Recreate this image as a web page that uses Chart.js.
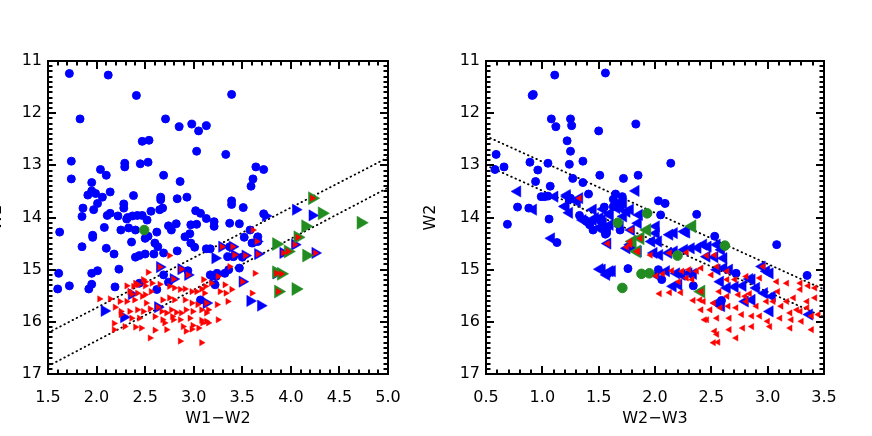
<!DOCTYPE html>
<html>
<head>
<meta charset="utf-8">
<script src="https://cdn.jsdelivr.net/npm/chart.js@4.4.1/dist/chart.umd.min.js"></script>
<style>
  html, body { margin: 0; padding: 0; background: #fff; overflow: hidden; }
  #wrap { position: relative; width: 872px; height: 436px; }
  canvas { position: absolute; top: 0; }
  #leftChart { left: -28px; }
  #rightChart { left: 410px; }
</style>
</head>
<body>
<div id="wrap">
  <canvas id="leftChart" width="464" height="436"></canvas>
  <canvas id="rightChart" width="462" height="436"></canvas>
</div>
<script>
// ---- data, [colour index, W2] pairs ----

// left panel: W1-W2 vs W2
const leftBlueDots = [
  [1.72,11.24],[2.12,11.27],[2.41,11.66],[1.83,12.11],[2.71,12.11],[2.85,12.26],[2.98,12.21],[3.05,12.34],
  [3.13,12.24],[2.47,12.54],[2.54,12.52],[3.03,12.73],[1.74,12.92],[1.74,13.26],[2.29,12.96],[2.29,13.03],
  [2.45,12.97],[2.53,12.94],[2.04,13.08],[2.10,13.19],[2.69,13.19],[2.86,13.31],[1.95,13.33],[1.91,13.57],
  [1.99,13.54],[1.95,13.49],[2.06,13.61],[2.14,13.51],[2.38,13.58],[2.66,13.61],[2.66,13.66],[2.83,13.64],
  [2.93,13.61],[2.01,13.73],[1.86,13.82],[1.97,13.85],[2.28,13.74],[2.28,13.82],[2.68,13.82],[2.65,13.85],
  [1.85,13.98],[2.11,13.96],[2.14,13.92],[2.22,13.97],[2.56,13.88],[3.02,13.87],[3.07,13.92],[3.13,14.02],
  [3.21,14.08],[1.62,14.28],[2.08,14.19],[1.96,14.34],[1.96,14.38],[2.25,14.24],[2.33,14.20],[2.40,14.24],
  [2.32,14.00],[2.37,13.97],[2.42,13.96],[2.47,13.96],[2.52,14.05],[2.74,14.16],[2.77,14.24],[2.82,14.12],
  [2.91,14.37],[2.96,14.31],[2.97,14.14],[3.03,14.13],[1.85,14.56],[2.10,14.59],[2.18,14.70],[2.36,14.47],
  [2.40,14.76],[2.44,14.73],[2.50,14.70],[2.59,14.70],[2.50,14.40],[2.53,14.36],[2.60,14.49],[2.63,14.56],
  [2.62,14.28],[2.83,14.64],[2.97,14.49],[3.01,14.57],[3.13,14.60],[3.17,14.60],[3.21,14.17],[2.31,14.03],
  [2.69,14.68],[1.61,15.07],[1.60,15.37],[1.72,15.31],[1.92,15.37],[1.95,15.28],[1.95,15.07],[2.01,15.02],
  [2.23,14.99],[2.19,15.33],[2.44,15.26],[2.69,15.10],[2.74,15.24],[2.62,15.38],[2.94,15.02],[3.07,15.58],
  [3.17,15.10],[3.24,15.07],[3.22,15.29],[3.39,11.64],[3.33,12.79],[3.64,13.03],[3.72,13.08],[3.61,13.26],
  [3.59,13.40],[3.39,13.68],[3.39,13.75],[3.51,13.81],[3.72,13.93],[3.37,14.11],[3.47,14.12],[3.58,14.24],
  [3.52,14.38],[3.66,14.37],[3.66,14.46],[3.60,14.49],[3.37,14.56],[3.35,14.75],[3.41,14.75],[3.50,14.76],
  [3.47,14.97],[3.23,15.13],[3.32,15.07],[3.36,15.00]
];
const leftBlueTris = [
  [4.05,13.85],[4.22,13.96],[3.74,13.97],[3.29,14.56],[3.40,14.56],[3.22,14.78],[3.42,14.72],[3.53,14.73],
  [3.66,14.70],[3.92,14.68],[4.04,14.52],[4.25,14.68],[3.50,15.23],[3.58,15.60],[3.69,15.69],[3.85,15.07],
  [3.20,15.13],[3.13,15.64],[2.65,14.95],[2.87,14.99],[2.79,15.18],[2.94,15.10],[2.08,15.79],[2.28,15.91],
  [2.36,15.47],[2.63,15.72],[3.65,14.46]
];
const leftGreenTris = [
  [4.22,13.63],[4.32,13.92],[4.72,14.10],[4.15,14.17],[3.85,14.51],[4.07,14.38],[3.97,14.65],[4.16,14.73],
  [3.85,15.05],[3.90,15.08],[3.87,15.42],[4.05,15.37]
];
const leftGreenDots = [[2.49,14.24]];
const leftRedTris = [
  [4.22,13.63],[3.29,14.56],[3.40,14.56],[3.42,14.72],[3.53,14.73],[3.66,14.70],[3.92,14.68],[3.97,14.65],
  [4.04,14.52],[4.07,14.38],[4.25,14.68],[3.50,15.23],[3.85,15.07],[3.90,15.08],[3.87,15.42],[2.65,14.95],
  [2.87,14.99],[2.79,15.18],[2.94,15.10],[2.36,15.47],[2.63,15.72],[3.13,15.64],[3.61,14.24],[3.65,14.46],
  [2.75,14.73],[2.53,15.05],[2.31,15.31],[2.40,15.26],[2.50,15.23],[2.50,15.31],[2.57,15.26],[2.65,15.28],
  [2.34,15.42],[2.42,15.45],[2.50,15.48],[2.56,15.42],[2.75,15.32],[2.80,15.35],[2.86,15.38],[2.91,15.37],
  [2.98,15.42],[3.03,15.42],[3.08,15.37],[3.11,15.45],[2.03,15.56],[2.14,15.56],[2.24,15.61],[2.31,15.61],
  [2.39,15.58],[2.47,15.51],[2.51,15.64],[2.68,15.58],[2.75,15.54],[2.80,15.58],[2.91,15.58],[2.98,15.64],
  [3.04,15.67],[2.19,15.72],[2.25,15.80],[2.34,15.80],[2.42,15.77],[2.48,15.80],[2.55,15.75],[2.67,15.80],
  [2.72,15.83],[2.77,15.77],[2.82,15.82],[2.87,15.83],[2.92,15.77],[2.99,15.80],[3.08,15.77],[2.25,15.86],
  [2.36,15.93],[2.44,15.93],[2.60,15.90],[2.68,15.96],[2.78,15.90],[2.86,15.96],[2.96,15.93],[3.08,15.97],
  [3.13,15.99],[2.18,16.03],[2.29,16.09],[2.40,16.10],[2.46,16.12],[2.60,16.16],[2.72,16.15],[2.18,16.15],
  [2.92,16.18],[2.98,16.14],[3.09,16.02],[2.55,16.31],[2.86,16.37],[3.08,16.40],[3.10,15.19],[3.12,15.32],
  [3.18,15.26],[3.25,15.13],[3.37,14.94],[3.32,15.29],[3.39,15.38],[3.27,15.42],[3.33,15.45],[3.63,15.07],
  [3.60,15.45],[3.35,15.61],[3.24,15.67],[3.13,15.83],[3.15,15.77],[3.15,16.02],[3.25,15.96],[2.70,16.02],
  [2.79,15.96],[2.89,16.09],[2.99,16.07],[3.05,16.12],[2.48,15.19],[2.43,15.29],[2.38,15.32]
];
const leftUpperLine = [[1.5,16.21],[5.0,12.85]];
const leftLowerLine = [[1.5,16.85],[5.0,13.43]];

// right panel: W2-W3 vs W2
const rightBlueDots = [
  [1.11,11.27],[1.56,11.23],[0.91,11.66],[0.92,11.64],[1.08,12.11],[1.12,12.26],[1.25,12.11],[1.26,12.24],
  [1.50,12.34],[1.83,12.21],[1.22,12.53],[1.25,12.73],[1.24,12.98],[0.59,12.79],[0.58,13.08],[0.66,13.03],
  [0.89,12.94],[0.96,13.09],[0.94,13.31],[1.05,12.96],[1.07,13.40],[1.27,13.25],[1.36,12.92],[1.36,13.33],
  [1.51,13.19],[1.72,13.25],[1.85,13.19],[0.99,13.60],[1.02,13.60],[1.05,13.59],[0.78,13.80],[0.88,13.82],
  [1.25,13.63],[1.41,13.55],[1.06,14.03],[1.33,13.96],[1.38,14.05],[1.42,14.14],[1.55,13.80],[1.63,13.79],
  [1.65,13.55],[1.71,13.60],[0.69,14.13],[1.57,14.24],[1.13,14.48],[1.57,14.30],[1.69,14.24],[1.58,15.08],
  [1.76,14.98],[1.24,13.65],[1.63,13.65],[1.68,13.73],[2.03,13.68],[2.09,13.73],[2.05,13.95],[2.37,13.94],
  [1.45,14.24],[1.56,14.32],[2.53,14.36],[3.08,14.52],[2.03,15.00],[2.72,15.07],[3.35,15.11],[2.34,15.31],
  [2.59,15.59],[2.06,15.19],[2.14,12.96]
];
const rightBlueTris = [
  [0.78,13.50],[0.92,13.85],[1.11,13.60],[1.20,13.79],[1.22,13.60],[1.31,13.70],[1.33,13.63],[1.45,13.85],
  [1.47,14.01],[1.53,14.05],[1.56,14.24],[1.60,13.95],[1.72,13.98],[1.78,13.85],[1.83,13.49],[1.79,14.24],
  [1.08,14.40],[1.36,14.05],[1.42,14.13],[1.58,14.50],[1.53,15.00],[1.60,15.03],[1.78,14.52],[1.85,14.65],
  [1.22,13.57],[1.21,13.78],[1.24,13.91],[1.54,13.84],[1.60,13.92],[1.66,13.82],[1.70,13.82],[1.75,13.89],
  [1.45,14.05],[1.51,14.01],[1.54,14.11],[1.50,14.20],[1.57,14.20],[1.60,14.14],[1.69,14.17],[1.85,14.11],
  [1.86,13.95],[2.01,14.17],[2.01,14.30],[1.97,14.46],[2.03,14.46],[2.13,14.33],[2.17,14.30],[2.26,14.27],
  [2.28,14.29],[1.75,14.59],[1.80,14.59],[1.99,14.68],[2.04,14.72],[2.12,14.68],[2.17,14.65],[2.26,14.62],
  [2.32,14.59],[2.38,14.58],[2.43,14.52],[2.47,14.56],[2.55,14.52],[2.59,14.62],[2.46,14.75],[2.53,14.76],
  [2.61,14.78],[1.51,14.99],[1.62,15.03],[1.57,15.10],[2.19,15.07],[2.24,15.10],[2.30,15.07],[2.34,15.08],
  [2.55,15.00],[2.61,14.97],[2.66,15.00],[2.16,15.32],[2.21,15.29],[2.64,15.35],[2.71,15.33],[2.78,15.31],
  [2.86,15.19],[2.90,15.35],[2.95,14.94],[2.99,15.03],[3.02,15.07],[2.55,15.64],[2.59,15.70],[2.86,15.58],
  [3.02,15.80],[3.37,15.86],[2.97,15.45],[3.04,15.51],[1.72,13.73],[2.84,15.18],[2.58,15.23],[2.80,15.61],
  [2.01,15.10],[2.10,15.03]
];
const rightGreenTris = [[1.80,14.46],[1.84,14.65],[1.93,14.24],[1.87,14.40],[2.33,14.17],[2.41,15.42]];
const rightGreenDots = [[1.67,14.10],[1.93,13.92],[2.20,14.73],[2.62,14.54],[1.88,15.08],[1.95,15.07],[1.71,15.35]];
const rightRedTris = [
  [1.33,13.63],[1.79,14.24],[1.58,14.50],[1.78,14.52],[1.85,14.65],[1.78,14.46],[1.87,14.40],[1.84,14.65],
  [1.75,14.57],[2.41,15.42],[1.96,14.72],[2.13,14.68],[2.28,14.67],[2.46,14.73],[2.53,14.72],[2.01,15.12],
  [2.07,15.08],[2.15,15.02],[2.24,15.03],[2.30,15.00],[2.37,15.03],[2.41,14.97],[2.50,15.10],[2.55,14.94],
  [2.64,15.03],[2.21,15.23],[2.28,15.16],[2.33,15.19],[2.04,15.46],[2.13,15.44],[2.23,15.44],[2.34,15.59],
  [2.43,15.61],[2.52,15.64],[2.46,15.96],[2.55,15.93],[2.66,15.93],[2.77,15.86],[2.86,15.89],[2.93,15.89],
  [3.00,15.99],[2.53,16.18],[2.66,16.15],[2.78,16.12],[2.86,16.09],[2.52,16.40],[2.56,16.39],[2.65,15.70],
  [2.72,15.73],[2.81,15.61],[2.90,15.70],[2.99,15.61],[2.74,15.48],[2.80,15.51],[2.84,15.46],[2.64,15.19],
  [2.71,15.19],[2.81,15.13],[2.93,15.16],[2.96,14.94],[3.08,15.23],[3.17,15.26],[3.29,15.26],[3.36,15.31],
  [3.42,15.35],[3.09,15.42],[3.23,15.54],[3.29,15.38],[3.35,15.61],[3.42,15.54],[3.05,15.61],[3.12,15.70],
  [3.17,15.61],[3.26,15.77],[3.35,15.73],[3.39,15.89],[3.45,15.86],[3.20,15.83],[3.29,15.80],[3.21,15.96],
  [3.30,15.99],[3.02,16.09],[3.20,16.12],[3.39,16.15],[2.57,15.42],[2.64,15.51],[2.49,15.77],[2.58,15.73],
  [2.44,15.96],[2.55,16.24],[2.72,16.31],[3.11,15.93],[2.40,15.58],[2.41,15.77]
];
const rightUpperLine = [[0.5,12.44],[3.5,15.38]];
const rightLowerLine = [[0.5,13.00],[3.5,15.91]];

// tick labels
const leftXTicks = ['1.5','2.0','2.5','3.0','3.5','4.0','4.5','5.0'];
const rightXTicks = ['0.5','1.0','1.5','2.0','2.5','3.0','3.5'];
const yTicks = ['11','12','13','14','15','16','17'];

// ---- styles ----
const BLUE = '#0000ff', RED = '#ff0000', GREEN = '#228b22';

Chart.defaults.font.family = "'DejaVu Sans', sans-serif";
Chart.defaults.font.size = 16;
Chart.defaults.color = '#000';

const toXY = arr => arr.map(p => ({ x: p[0], y: p[1] }));

// IDL style frame: box with inward ticks on all four sides
const idlFrame = {
  id: 'idlFrame',
  afterDraw(chart) {
    const { ctx, chartArea: a, scales: { x, y } } = chart;
    ctx.save();
    ctx.strokeStyle = '#000';
    ctx.lineWidth = 2;
    ctx.beginPath();
    const nx = Math.round((x.max - x.min) / 0.1);
    for (let i = 0; i <= nx; i++) {
      const px = Math.round(x.getPixelForValue(x.min + i * 0.1));
      const len = i % 5 === 0 ? 8 : 4.5;
      ctx.moveTo(px, a.bottom); ctx.lineTo(px, a.bottom - len);
      ctx.moveTo(px, a.top); ctx.lineTo(px, a.top + len);
    }
    const ny = Math.round((y.max - y.min) / 0.1);
    for (let i = 0; i <= ny; i++) {
      const py = Math.round(y.getPixelForValue(y.min + i * 0.1));
      const len = i % 10 === 0 ? 8 : 4.5;
      ctx.moveTo(a.left, py); ctx.lineTo(a.left + len, py);
      ctx.moveTo(a.right, py); ctx.lineTo(a.right - len, py);
    }
    ctx.stroke();
    ctx.strokeRect(a.left, a.top, a.right - a.left, a.bottom - a.top);
    ctx.restore();
  }
};

function dotSet(arr, color, r) {
  return { data: toXY(arr), pointStyle: 'circle', pointRadius: r, pointBorderWidth: 1,
    backgroundColor: color, borderColor: color, showLine: false };
}
function triSet(arr, color, r, rot) {
  return { data: toXY(arr), pointStyle: 'triangle', pointRadius: r, pointRotation: rot, pointBorderWidth: 0.5,
    backgroundColor: color, borderColor: color, showLine: false };
}
function lineSet(arr) {
  return { data: toXY(arr), showLine: true, pointRadius: 0, borderColor: '#000', borderWidth: 1.8,
    borderDash: [0.6, 4], borderCapStyle: 'round', fill: false };
}

function makePanel(id, p) {
  const el = document.getElementById(id);
  return new Chart(el.getContext('2d'), {
    type: 'scatter',
    data: {
      // first dataset is drawn on top
      datasets: [
        triSet(p.red, RED, 3.6, p.rot),
        dotSet(p.greenDots, GREEN, 4.8),
        triSet(p.greenTris, GREEN, 7.5, p.rot),
        triSet(p.blueTris, BLUE, 6.5, p.rot),
        dotSet(p.blueDots, BLUE, 4),
        lineSet(p.upper),
        lineSet(p.lower)
      ]
    },
    options: {
      responsive: false, animation: false, devicePixelRatio: 1, events: [],
      layout: { padding: { top: 61, right: 48, bottom: 0, left: 0 } },
      plugins: { legend: { display: false }, tooltip: { enabled: false } },
      scales: {
        x: {
          type: 'linear', min: p.xMin, max: p.xMax,
          grid: { display: false, drawTicks: false }, border: { display: false },
          ticks: { stepSize: 0.5, padding: 14, color: '#000', callback: v => p.xTicks[Math.round((v - p.xMin) / 0.5)] },
          title: { display: true, text: p.xTitle, color: '#000', padding: { top: 0, bottom: 8 } },
          afterFit: s => { s.height = 62; }
        },
        y: {
          type: 'linear', min: 11, max: 17, reverse: true,
          grid: { display: false, drawTicks: false }, border: { display: false },
          ticks: { stepSize: 1, padding: 6, color: '#000', callback: v => yTicks[Math.round(v - 11)] },
          title: { display: true, text: 'W2', color: '#000', padding: { top: p.yTitlePad, bottom: 0 } },
          afterFit: s => { s.width = 76; }
        }
      }
    },
    plugins: [idlFrame]
  });
}

makePanel('leftChart', {
  blueDots: leftBlueDots, blueTris: leftBlueTris, greenTris: leftGreenTris, greenDots: leftGreenDots,
  red: leftRedTris, upper: leftUpperLine, lower: leftLowerLine, rot: 90, yTitlePad: 15,
  xMin: 1.5, xMax: 5.0, xTicks: leftXTicks, xTitle: 'W1\u2212W2'
});
makePanel('rightChart', {
  blueDots: rightBlueDots, blueTris: rightBlueTris, greenTris: rightGreenTris, greenDots: rightGreenDots,
  red: rightRedTris, upper: rightUpperLine, lower: rightLowerLine, rot: -90, yTitlePad: 11,
  xMin: 0.5, xMax: 3.5, xTicks: rightXTicks, xTitle: 'W2\u2212W3'
});
</script>
</body>
</html>
